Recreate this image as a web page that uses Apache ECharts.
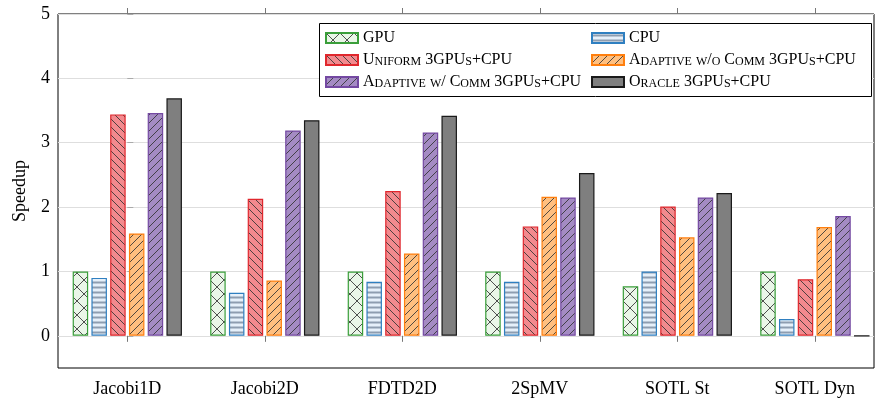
<!DOCTYPE html>
<html>
<head>
<meta charset="utf-8">
<script src="https://cdn.jsdelivr.net/npm/echarts@6/dist/echarts.min.js"></script>
<style>
html,body{margin:0;padding:0;background:#fff;}
#chart{width:875px;height:404px;}
</style>
</head>
<body>
<div id="chart"></div>
<script>
// ---- data ----
const categories = ['Jacobi1D', 'Jacobi2D', 'FDTD2D', '2SpMV', 'SOTL St', 'SOTL Dyn'];
const gpu            = [1.00, 1.00, 1.00, 1.00, 0.77, 1.00];
const cpu            = [0.90, 0.67, 0.84, 0.84, 1.00, 0.26];
const uniform        = [3.44, 2.13, 2.25, 1.70, 2.01, 0.88];
const adaptiveNoComm = [1.59, 0.86, 1.28, 2.16, 1.53, 1.69];
const adaptiveComm   = [3.46, 3.19, 3.16, 2.15, 2.15, 1.86];
const oracle         = [3.69, 3.35, 3.42, 2.53, 2.22, 0.00];
const yTicks = [0, 1, 2, 3, 4, 5];
const xTicks = [0, 1, 2, 3, 4, 5];
const seriesNames = ['GPU', 'CPU', 'Uniform 3GPUs+CPU', 'Adaptive w/o Comm 3GPUs+CPU', 'Adaptive w/ Comm 3GPUs+CPU', 'Oracle 3GPUs+CPU'];
const seriesValues = [gpu, cpu, uniform, adaptiveNoComm, adaptiveComm, oracle];

// ---- styles ----
const FONT = "'Liberation Serif', 'DejaVu Serif', serif";
const HATCH = 'rgba(50,50,50,0.85)';

function makePattern(bg, kind) {
  const s = kind === 'cross' ? 14 : (kind === 'horiz' ? 5 : 8);
  const c = document.createElement('canvas');
  c.width = s; c.height = s;
  const g = c.getContext('2d');
  g.fillStyle = bg; g.fillRect(0, 0, s, s);
  if (kind === 'solid') return c;
  g.strokeStyle = HATCH; g.lineWidth = 1;
  if (kind === 'horiz') {
    g.fillStyle = '#8e9db0';
    g.fillRect(0, 1.5, s, 2);
    return c;
  }
  g.beginPath();
  for (const k of [-s, 0, s]) {
    if (kind === 'back' || kind === 'cross') { g.moveTo(k, 0); g.lineTo(k + s, s); }
    if (kind === 'fwd' || kind === 'cross') { g.moveTo(k, s); g.lineTo(k + s, 0); }
  }
  g.stroke();
  return c;
}

const styles = [
  { bg: '#eaf6e8', kind: 'cross', border: '#3a9e3a' },
  { bg: '#e6f0fa', kind: 'horiz', border: '#2f7fc0' },
  { bg: '#f28a8e', kind: 'back',  border: '#e0272d' },
  { bg: '#ffbf7f', kind: 'fwd',   border: '#ff7f0e' },
  { bg: '#a48bc3', kind: 'fwd',   border: '#7449a2' },
  { bg: '#7f7f7f', kind: 'solid', border: '#1a1a1a' }
];

// small-caps rich text for legend
function smallCaps(str) {
  let out = '', cur = null, buf = '';
  const flush = () => { if (buf) out += '{' + cur + '|' + buf + '}'; buf = ''; };
  for (const ch of str) {
    const isLower = ch >= 'a' && ch <= 'z';
    const t = isLower ? 's' : 'b';
    if (t !== cur) { flush(); cur = t; }
    buf += isLower ? ch.toUpperCase() : ch;
  }
  flush();
  return out;
}
function legendFormatter(name) {
  return smallCaps(name);
}

const chart = echarts.init(document.getElementById('chart'), null, { renderer: 'canvas' });

const series = seriesNames.map((name, i) => ({
  name: name,
  type: 'bar',
  barWidth: 15.5,
  barGap: '21%',
  data: seriesValues[i].map((v, j) => [j, v]),
  itemStyle: {
    color: { image: makePattern(styles[i].bg, styles[i].kind), repeat: 'repeat' },
    borderColor: styles[i].border,
    borderWidth: 1.2
  },
  emphasis: { disabled: true }
}));

const legendCommon = {
  orient: 'vertical',
  top: 30,
  itemWidth: 32,
  itemHeight: 10,
  itemGap: 6,
  padding: 0,
  icon: 'rect',
  selectedMode: false,
  z: 10,
  formatter: legendFormatter,
  textStyle: {
    fontFamily: FONT,
    color: '#000',
    rich: {
      b: { fontFamily: FONT, fontSize: 16, lineHeight: 16, verticalAlign: 'bottom', color: '#000' },
      s: { fontFamily: FONT, fontSize: 12, lineHeight: 12, verticalAlign: 'bottom', color: '#000' }
    }
  }
};

const option = {
  animation: false,
  backgroundColor: '#fff',
  grid: {
    left: 58, right: 1, top: 14, bottom: 36,
    show: true, borderColor: '#000', borderWidth: 1, backgroundColor: 'transparent'
  },
  graphic: [{
    type: 'rect', z: 5,
    shape: { x: 319.5, y: 23.5, width: 552, height: 73 },
    style: { fill: '#fff', stroke: '#000', lineWidth: 1 }
  }],
  legend: [
    Object.assign({}, legendCommon, { left: 325, data: [seriesNames[0], seriesNames[2], seriesNames[4]] }),
    Object.assign({}, legendCommon, { left: 591, data: [seriesNames[1], seriesNames[3], seriesNames[5]] })
  ],
  xAxis: [{
    type: 'value',
    position: 'bottom',
    min: -0.504,
    max: 5.43,
    axisLine: { show: false },
    splitLine: { show: false },
    axisTick: { show: true, customValues: xTicks, length: 6, lineStyle: { color: '#777' } },
    axisLabel: {
      customValues: xTicks,
      formatter: v => categories[Math.round(v)],
      fontFamily: FONT, fontSize: 18, color: '#000', margin: 12
    }
  }, {
    type: 'value',
    position: 'top',
    min: -0.504,
    max: 5.43,
    axisLine: { show: false },
    splitLine: { show: false },
    axisTick: { show: true, customValues: xTicks, length: 6, lineStyle: { color: '#777' } },
    axisLabel: { show: false }
  }],
  yAxis: {
    type: 'value',
    min: -0.5,
    max: 5,
    name: 'Speedup',
    nameLocation: 'middle',
    nameGap: 29,
    nameTextStyle: { fontFamily: FONT, fontSize: 18, color: '#000' },
    axisLine: { show: false },
    axisTick: { show: true, inside: true, length: 6, customValues: yTicks, lineStyle: { color: '#aaa' } },
    axisLabel: { customValues: yTicks, fontFamily: FONT, fontSize: 18, color: '#000', margin: 8 },
    splitLine: { show: true, lineStyle: { color: '#dedede', width: 1 } }
  },
  series: series
};

chart.setOption(option);
</script>
</body>
</html>
